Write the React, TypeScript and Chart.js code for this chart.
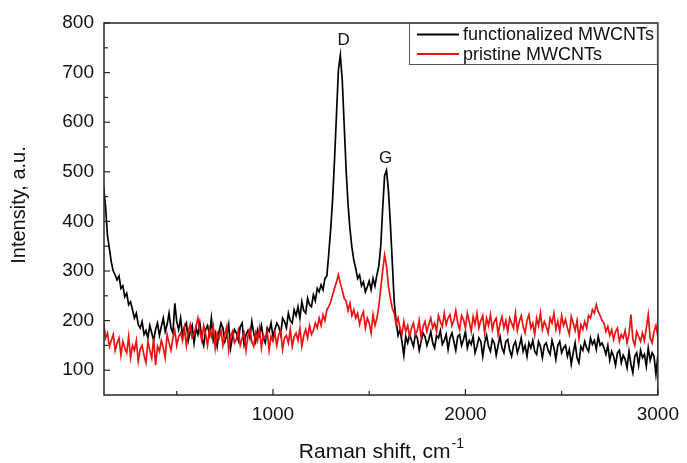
import React, { useEffect, useRef } from "react";
import { Chart, registerables } from "chart.js";

Chart.register(...registerables);

// Raman shift sampling grid (cm^-1)
const SHIFT_START = 120;
const SHIFT_STEP = 10;

// functionalized MWCNTs intensity (a.u.), 120..3000 cm^-1
const functionalized = [
  470, 430, 372, 345, 318, 300, 292, 282, 290, 265,
  270, 248, 255, 232, 238, 222, 205, 215, 192, 185,
  198, 172, 180, 165, 190, 175, 160, 182, 195, 170,
  188, 205, 178, 192, 215, 185, 175, 235, 198, 182,
  205, 170, 188, 195, 160, 178, 190, 155, 185, 172,
  195, 165, 150, 182, 190, 172, 205, 160, 175, 148,
  178, 195, 185, 158, 170, 192, 145, 168, 182, 175,
  160, 188, 195, 152, 172, 180, 165, 198, 175, 158,
  182, 170, 190, 165, 155, 185, 178, 195, 168, 182,
  195, 188, 172, 205, 198, 185, 215, 200, 195, 222,
  210, 228, 205, 238, 220, 215, 245, 232, 228, 252,
  240, 265, 258, 272, 262, 285, 290, 335, 385, 445,
  525, 615, 705, 735, 685, 595, 505, 435, 385, 348,
  322, 305, 285, 292, 270, 278, 258, 268, 280, 262,
  285, 270, 292, 310, 350, 425, 492, 503, 462, 395,
  318, 238, 198, 170, 182, 158, 130, 168, 155, 172,
  160, 148, 172, 165, 140, 158, 175, 168, 150, 162,
  178, 155, 145, 170, 165, 180, 152, 160, 172, 142,
  165, 175, 158, 140, 168, 172, 150, 162, 178, 145,
  160, 152, 168, 135, 148, 165, 158, 128, 155, 170,
  148, 138, 162, 155, 130, 150, 168, 145, 135, 158,
  162, 140, 128, 150, 158, 135, 148, 165, 138, 150,
  128, 155, 145, 160, 138, 132, 158, 148, 125, 150,
  155, 140, 132, 160, 145, 122, 150, 158, 135, 145,
  150, 128, 142, 112, 135, 155, 125, 115, 148, 140,
  158, 145, 138, 165, 152, 160, 142, 168, 150, 155,
  145, 132, 150, 120, 138, 128, 110, 135, 140, 115,
  130, 122, 105, 138, 112, 95, 128, 135, 110, 140,
  125, 132, 108, 145, 120, 135, 128, 92, 130,
];

// pristine MWCNTs intensity (a.u.), 120..3000 cm^-1
const pristine = [
  195, 165, 175, 148, 160, 172, 140, 155, 165, 130,
  158, 145, 135, 168, 125, 150, 140, 160, 118, 142,
  150, 130, 115, 158, 140, 125, 165, 110, 148, 138,
  160, 145, 125, 172, 155, 140, 165, 180, 150, 168,
  175, 160, 185, 150, 178, 192, 165, 172, 188, 205,
  178, 160, 190, 172, 150, 182, 168, 188, 145, 175,
  165, 180, 150, 172, 188, 140, 168, 178, 155, 162,
  180, 150, 165, 175, 140, 170, 182, 158, 148, 175,
  160, 185, 145, 170, 165, 178, 140, 168, 158, 175,
  150, 172, 180, 142, 165, 170, 155, 182, 148, 168,
  175, 160, 185, 148, 170, 182, 165, 190, 172, 180,
  195, 185, 205, 190, 212, 200, 222, 228, 238, 252,
  265, 278, 292, 275, 262, 245, 240, 220, 235, 210,
  222, 205, 215, 192, 208, 218, 185, 205, 195, 175,
  212, 190, 205, 228, 265, 300, 332, 310, 270, 245,
  225, 215, 192, 205, 185, 172, 198, 178, 190, 168,
  185, 195, 172, 180, 200, 165, 188, 198, 178, 192,
  205, 185, 195, 178, 210, 198, 188, 215, 192, 205,
  212, 190, 200, 220, 195, 182, 210, 202, 185, 215,
  198, 178, 208, 192, 215, 185, 200, 210, 175, 205,
  190, 212, 182, 198, 205, 172, 195, 208, 185, 200,
  178, 205, 195, 185, 215, 180, 198, 210, 188, 175,
  200, 212, 185, 195, 172, 205, 190, 215, 182, 198,
  188, 175, 205, 195, 215, 182, 198, 178, 210, 190,
  202, 185, 172, 208, 195, 180, 200, 165, 192, 182,
  198, 185, 210, 205, 222, 215, 232, 218, 210, 200,
  195, 178, 188, 170, 182, 162, 178, 185, 158, 172,
  165, 180, 155, 172, 212, 162, 150, 178, 168, 158,
  175, 160, 185, 212, 165, 155, 178, 190, 168,
];

const SERIES_LABELS = ["functionalized MWCNTs", "pristine MWCNTs"];
const SERIES_COLORS = ["#000000", "#ee1111"];

const X_MIN = 122;
const X_MAX = 3000;
const Y_MIN = 50;
const Y_MAX = 800;
const X_MAJOR_TICKS = [1000, 2000, 3000];
const X_MINOR_TICKS = [500, 1500, 2500];
const Y_MAJOR_TICKS = [100, 200, 300, 400, 500, 600, 700, 800];
const Y_MINOR_TICKS = [150, 250, 350, 450, 550, 650, 750];

const PEAK_LABELS = [
  { text: "D", x: 1367, y: 766 },
  { text: "G", x: 1585, y: 528 },
];

const X_TITLE = "Raman shift, cm";
const X_TITLE_SUP = "-1";
const Y_TITLE = "Intensity, a.u.";

const FONT = "'Liberation Sans', Arial, sans-serif";

const decorPlugin = {
  id: "decor",
  afterDatasetsDraw(chart: any) {
    const { ctx, chartArea: a, scales } = chart;
    const x = scales.x;
    const y = scales.y;
    ctx.save();
    // frame
    ctx.strokeStyle = "#262626";
    ctx.lineWidth = 1.5;
    ctx.strokeRect(a.left, a.top, a.right - a.left, a.bottom - a.top);
    // inward ticks
    ctx.lineWidth = 1.2;
    const seg = (x1: number, y1: number, x2: number, y2: number) => {
      ctx.beginPath();
      ctx.moveTo(x1, y1);
      ctx.lineTo(x2, y2);
      ctx.stroke();
    };
    X_MAJOR_TICKS.forEach((v) => {
      const px = x.getPixelForValue(v);
      seg(px, a.bottom, px, a.bottom - 6);
    });
    X_MINOR_TICKS.forEach((v) => {
      const px = x.getPixelForValue(v);
      seg(px, a.bottom, px, a.bottom - 4);
    });
    Y_MAJOR_TICKS.forEach((v) => {
      const py = y.getPixelForValue(v);
      seg(a.left, py, a.left + 6, py);
    });
    Y_MINOR_TICKS.forEach((v) => {
      const py = y.getPixelForValue(v);
      seg(a.left, py, a.left + 4, py);
    });

    // peak labels
    ctx.fillStyle = "#111";
    ctx.font = `17px ${FONT}`;
    ctx.textAlign = "center";
    ctx.textBaseline = "middle";
    PEAK_LABELS.forEach((p) => {
      ctx.fillText(p.text, x.getPixelForValue(p.x), y.getPixelForValue(p.y));
    });

    // legend box
    const bx = 409;
    const by = a.top;
    const bw = a.right - 1 - bx;
    const bh = 41;
    ctx.fillStyle = "#fff";
    ctx.fillRect(bx, by, bw, bh);
    ctx.strokeStyle = "#555";
    ctx.lineWidth = 1;
    ctx.strokeRect(bx + 0.5, by + 0.5, bw, bh);
    ctx.font = `18px ${FONT}`;
    ctx.textAlign = "left";
    ctx.textBaseline = "middle";
    chart.data.datasets.forEach((ds: any, i: number) => {
      const ly = by + 11.5 + i * 19.5;
      ctx.strokeStyle = ds.borderColor;
      ctx.lineWidth = 2;
      seg(bx + 8, ly, bx + 50, ly);
      ctx.fillStyle = "#111";
      ctx.fillText(ds.label, bx + 54, ly + 1);
    });

    // axis titles
    ctx.fillStyle = "#111";
    ctx.font = `21px ${FONT}`;
    ctx.textBaseline = "alphabetic";
    const mainW = ctx.measureText(X_TITLE).width;
    ctx.font = `14px ${FONT}`;
    const supW = ctx.measureText(X_TITLE_SUP).width;
    const cx = (a.left + a.right) / 2;
    const startX = cx - (mainW + supW) / 2;
    ctx.font = `21px ${FONT}`;
    ctx.textAlign = "left";
    ctx.fillText(X_TITLE, startX, 458);
    ctx.font = `14px ${FONT}`;
    ctx.fillText(X_TITLE_SUP, startX + mainW + 1, 448);

    ctx.save();
    ctx.translate(25, (a.top + a.bottom) / 2 - 4);
    ctx.rotate(-Math.PI / 2);
    ctx.font = `20px ${FONT}`;
    ctx.textAlign = "center";
    ctx.textBaseline = "alphabetic";
    ctx.fillText(Y_TITLE, 0, 0);
    ctx.restore();

    ctx.restore();
  },
};

export default function App() {
  const canvasRef = useRef<HTMLCanvasElement | null>(null);

  useEffect(() => {
    if (!canvasRef.current) return;
    const grid = functionalized.map((_, i) => SHIFT_START + i * SHIFT_STEP);
    const chart = new Chart(canvasRef.current, {
      type: "line",
      data: {
        datasets: [
          {
            label: SERIES_LABELS[0],
            data: functionalized.map((v, i) => ({ x: grid[i], y: v })),
            borderColor: SERIES_COLORS[0],
            borderWidth: 1.7,
            pointRadius: 0,
            tension: 0,
            order: 2,
          },
          {
            label: SERIES_LABELS[1],
            data: pristine.map((v, i) => ({ x: grid[i], y: v })),
            borderColor: SERIES_COLORS[1],
            borderWidth: 1.7,
            pointRadius: 0,
            tension: 0,
            order: 1,
          },
        ],
      },
      options: {
        animation: false,
        responsive: true,
        maintainAspectRatio: false,
        layout: { padding: { left: 0, top: 23, right: 26, bottom: 0 } },
        plugins: {
          legend: { display: false },
          tooltip: { enabled: false },
        },
        scales: {
          x: {
            type: "linear",
            min: X_MIN,
            max: X_MAX,
            grid: { display: false, drawTicks: false },
            border: { display: false },
            afterBuildTicks: (s: any) => {
              s.ticks = X_MAJOR_TICKS.map((v) => ({ value: v }));
            },
            afterFit: (s: any) => {
              s.height = 68;
            },
            ticks: {
              autoSkip: false,
              maxRotation: 0,
              padding: 8,
              color: "#111",
              font: { family: FONT, size: 19 },
              callback: (v: any) => String(v),
            },
          },
          y: {
            type: "linear",
            min: Y_MIN,
            max: Y_MAX,
            grid: { display: false, drawTicks: false },
            border: { display: false },
            afterBuildTicks: (s: any) => {
              s.ticks = Y_MAJOR_TICKS.map((v) => ({ value: v }));
            },
            afterFit: (s: any) => {
              s.width = 104;
            },
            ticks: {
              padding: 10,
              color: "#111",
              font: { family: FONT, size: 19 },
              callback: (v: any) => String(v),
            },
          },
        },
      },
      plugins: [decorPlugin],
    });
    return () => chart.destroy();
  }, []);

  return (
    <div style={{ position: "fixed", left: 0, top: 0, width: 687, height: 463, background: "#fff" }}>
      <canvas ref={canvasRef} />
    </div>
  );
}
